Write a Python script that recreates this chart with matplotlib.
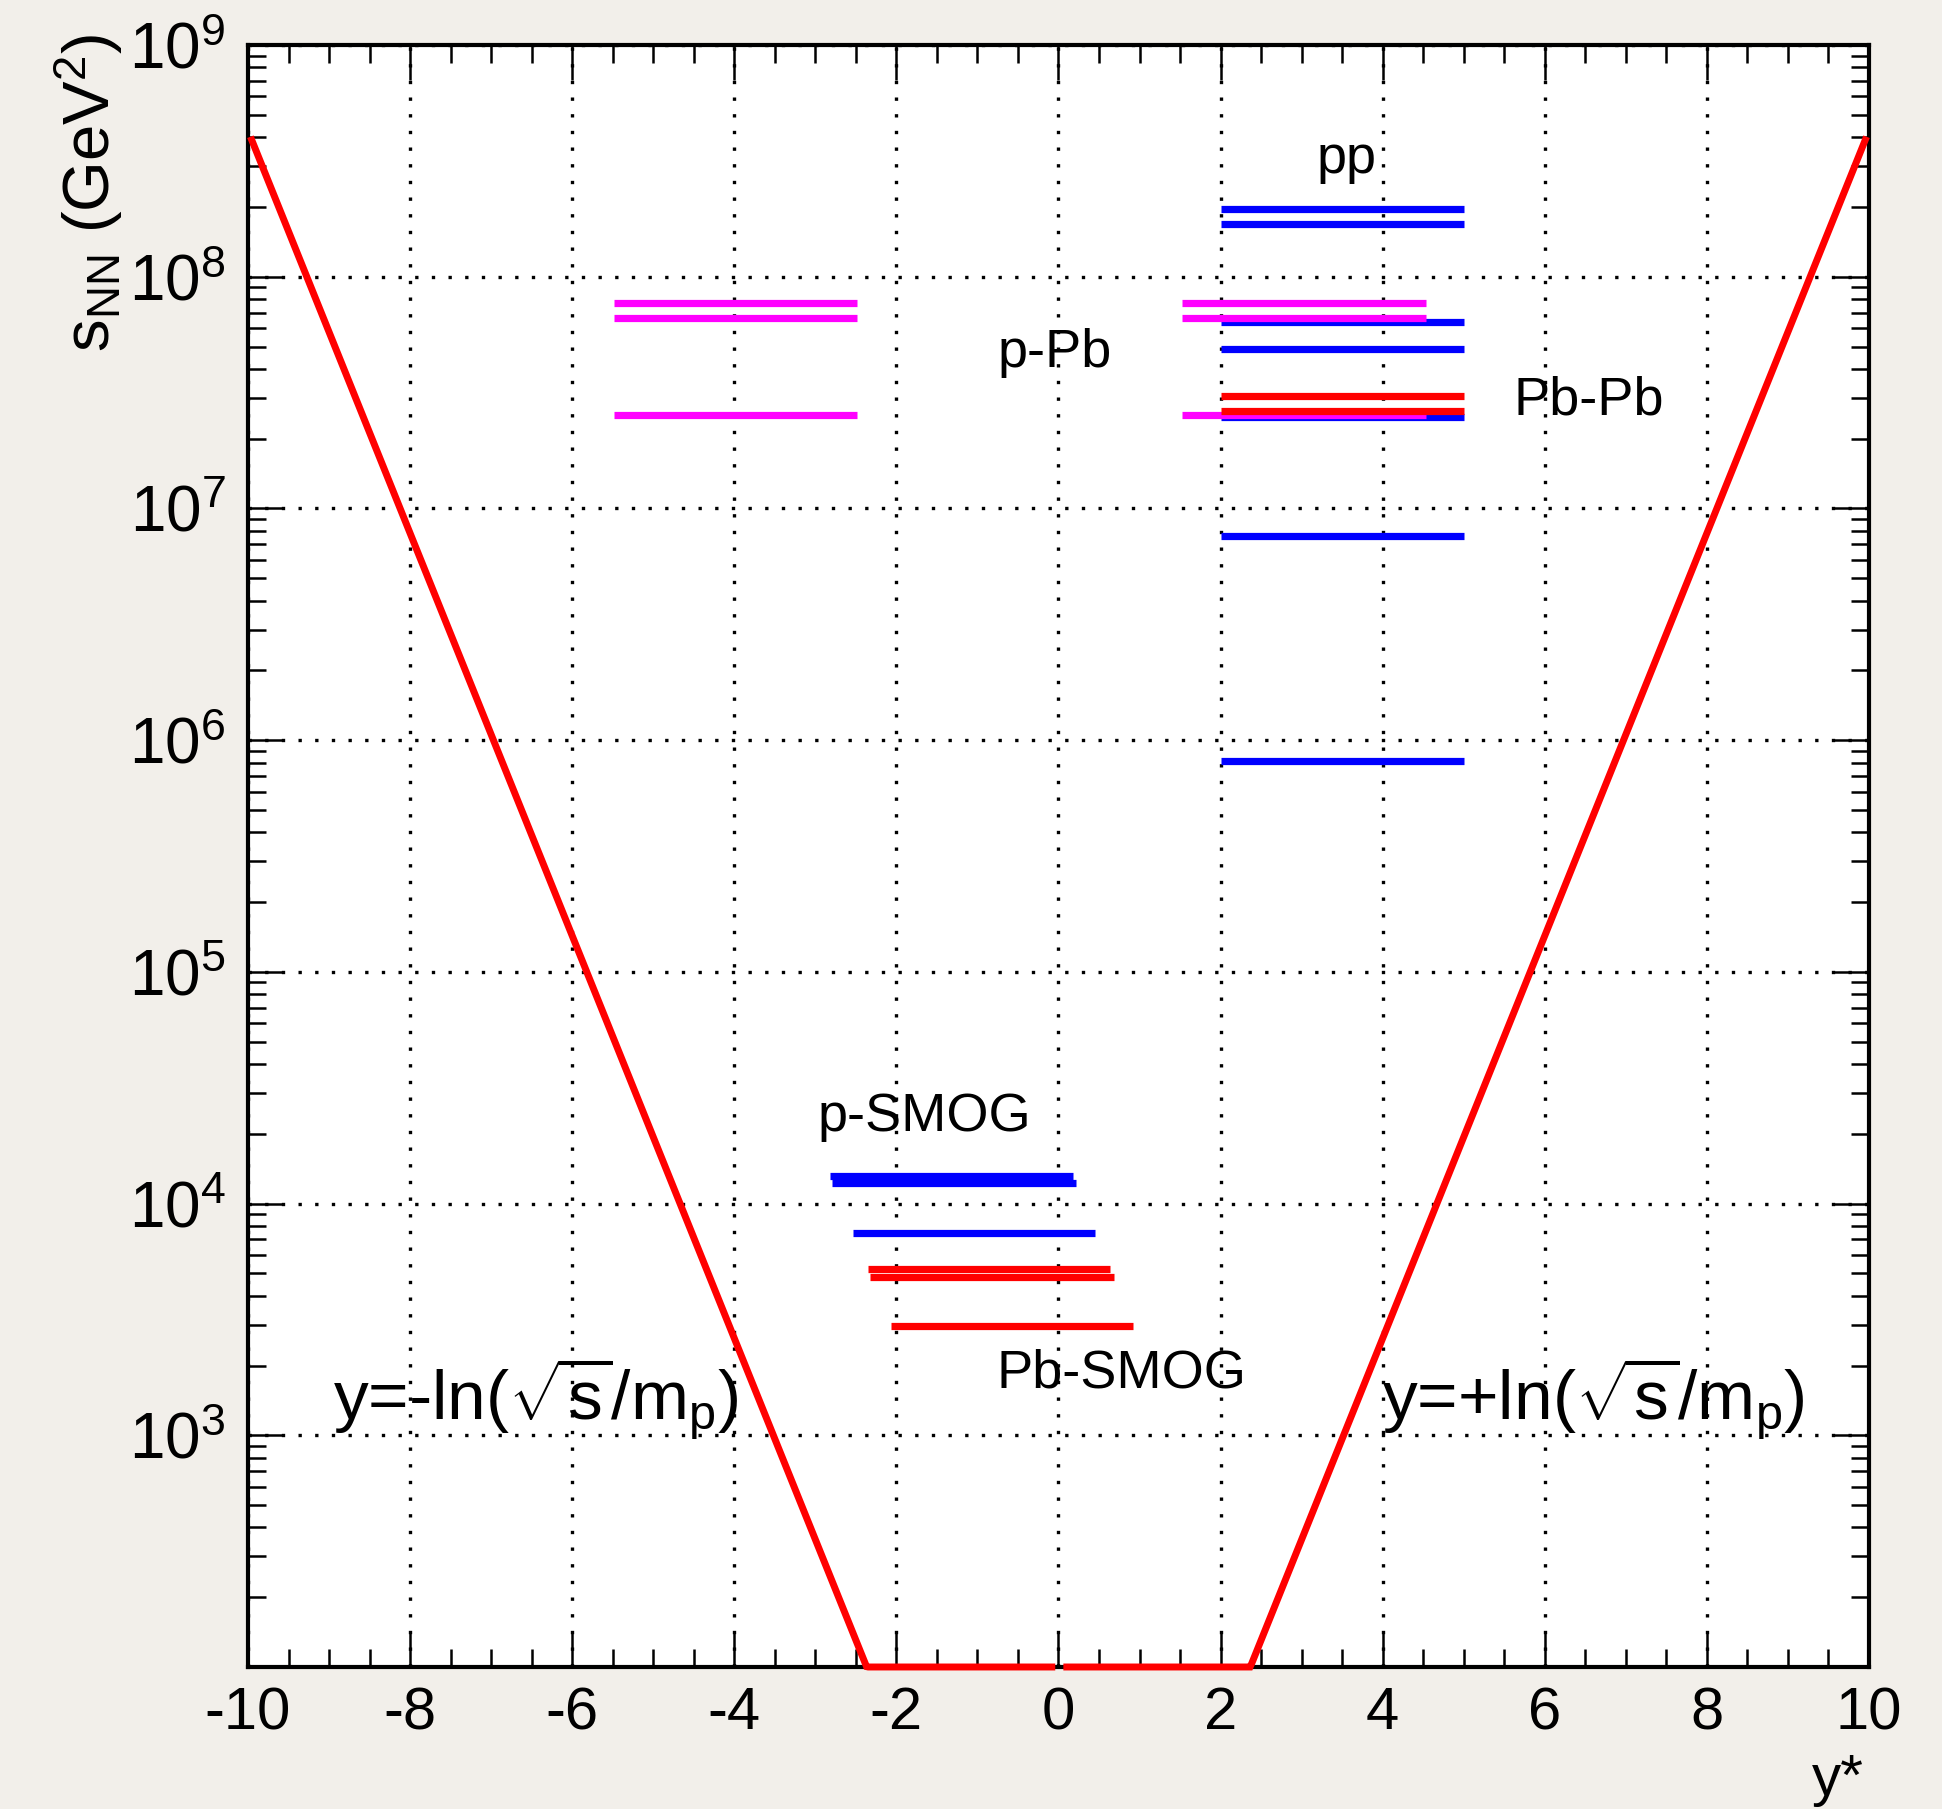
import numpy as np
import matplotlib.pyplot as plt
from matplotlib.ticker import FixedLocator, NullFormatter

plt.rcParams['font.family'] = ['Liberation Sans', 'DejaVu Sans']
plt.rcParams['mathtext.fontset'] = 'custom'
plt.rcParams['mathtext.rm'] = 'Liberation Sans'
plt.rcParams['mathtext.it'] = 'Liberation Sans:italic'
plt.rcParams['mathtext.bf'] = 'Liberation Sans:bold'

# proton mass (GeV) for the kinematic limit y = +-ln(sqrt(s)/m_p)
m_p = 0.938

# s_NN values (GeV^2)
pp_s = [1.96e8, 1.69e8, 6.4e7, 4.9e7, 2.49e7, 7.6e6, 8.1e5]
pp_range = [2.0, 5.0]

pPb_s = [7.74e7, 6.65e7, 2.53e7]
pPb_fwd = [1.52, 4.53]
pPb_bwd = [-5.48, -2.48]

PbPb_s = [3.06e7, 2.63e7]
PbPb_range = [2.0, 5.0]

pSMOG_s = [1.32e4, 1.23e4, 7.48e3]
pSMOG_lo = [-2.82, -2.79, -2.54]
pSMOG_hi = [0.18, 0.22, 0.45]

PbSMOG_s = [5.21e3, 4.83e3, 2.96e3]
PbSMOG_lo = [-2.35, -2.32, -2.07]
PbSMOG_hi = [0.64, 0.685, 0.92]

s_min, s_max = 1e2, 1e9

fig = plt.figure(figsize=(19.42, 18.09), dpi=100)
fig.patch.set_facecolor('#f2efea')
ax = fig.add_axes([0.1277, 0.0785, 0.8347, 0.8966])
ax.set_facecolor('white')
ax.set_yscale('log')
ax.set_xlim(-10, 10)
ax.set_ylim(s_min, s_max)

# kinematic limit curve (clipped at the frame minimum, like ROOT does)
y_left = np.linspace(-9.97, -0.04, 500)
y_right = np.linspace(0.06, 9.97, 500)
for yy in (y_left, y_right):
    s_curve = np.maximum(m_p**2 * np.exp(2 * np.abs(yy)), s_min)
    ax.plot(yy, s_curve, color='#ff0000', lw=5, clip_on=False, zorder=6,
            solid_joinstyle='miter', solid_capstyle='butt')

lw_bar = 5.2
for s in pp_s:
    ax.plot(pp_range, [s, s], color='#0000ff', lw=lw_bar, solid_capstyle='butt', zorder=3)
for s in pPb_s:
    ax.plot(pPb_bwd, [s, s], color='#ff00ff', lw=lw_bar, solid_capstyle='butt', zorder=3)
    ax.plot(pPb_fwd, [s, s], color='#ff00ff', lw=lw_bar, solid_capstyle='butt', zorder=3)
for s in PbPb_s:
    ax.plot(PbPb_range, [s, s], color='#ff0000', lw=lw_bar, solid_capstyle='butt', zorder=3)
for s, lo, hi in zip(pSMOG_s, pSMOG_lo, pSMOG_hi):
    ax.plot([lo, hi], [s, s], color='#0000ff', lw=lw_bar, solid_capstyle='butt', zorder=3)
for s, lo, hi in zip(PbSMOG_s, PbSMOG_lo, PbSMOG_hi):
    ax.plot([lo, hi], [s, s], color='#ff0000', lw=lw_bar, solid_capstyle='butt', zorder=3)

# labels
fs_ann = 39
ax.text(3.18, 2.8e8, 'pp', fontsize=fs_ann, va='baseline', ha='left')
ax.text(-0.75, 4.07e7, 'p-Pb', fontsize=fs_ann, va='baseline', ha='left')
ax.text(5.61, 2.55e7, 'Pb-Pb', fontsize=fs_ann, va='baseline', ha='left')
ax.text(-2.97, 2.05e4, 'p-SMOG', fontsize=fs_ann, va='baseline', ha='left')
ax.text(-0.76, 1.61e3, 'Pb-SMOG', fontsize=fs_ann, va='baseline', ha='left')
ax.text(-8.95, 1.16e3, r'y=-ln($\mathregular{\sqrt{s}}$/m$_\mathregular{p}$)',
        fontsize=50, va='baseline', ha='left')
ax.text(3.99, 1.16e3, r'y=+ln($\mathregular{\sqrt{s}}$/m$_\mathregular{p}$)',
        fontsize=50, va='baseline', ha='left')

# ticks
xt = [-10, -8, -6, -4, -2, 0, 2, 4, 6, 8, 10]
ax.set_xticks(xt)
ax.set_xticklabels([str(v) for v in xt])
ax.xaxis.set_minor_locator(FixedLocator(np.arange(-10, 10.01, 0.5)))

yt = [10.0**k for k in range(3, 10)]
ax.set_yticks(yt)
ax.set_yticklabels([r'$\mathregular{10^{%d}}$' % k for k in range(3, 10)])
ymin_t = [m * 10.0**k for k in range(2, 9) for m in range(2, 10)]
ax.yaxis.set_minor_locator(FixedLocator(ymin_t))
ax.yaxis.set_minor_formatter(NullFormatter())

ax.tick_params(which='both', direction='in', top=True, right=True, width=1.8, color='k')
ax.tick_params(which='major', length=25)
ax.tick_params(which='minor', length=13)
ax.tick_params(axis='x', which='major', labelsize=43, pad=14)
ax.tick_params(axis='y', which='major', labelsize=46, pad=16)

for sp in ax.spines.values():
    sp.set_linewidth(3)
    sp.set_zorder(5)

ax.grid(which='major', color='k', linestyle=(0, (1, 4)), linewidth=2.4)
ax.set_axisbelow(True)

fig.text(0.0455, 1 - 33 / 1809, r'$\mathregular{s_{NN}\ (GeV^{2})}$', fontsize=47,
         rotation=90, ha='center', va='top')
fig.text(1864 / 1942, 0.001, 'y*', fontsize=42, ha='right', va='bottom')

fig.savefig('out.png', dpi=100, facecolor=fig.get_facecolor())
